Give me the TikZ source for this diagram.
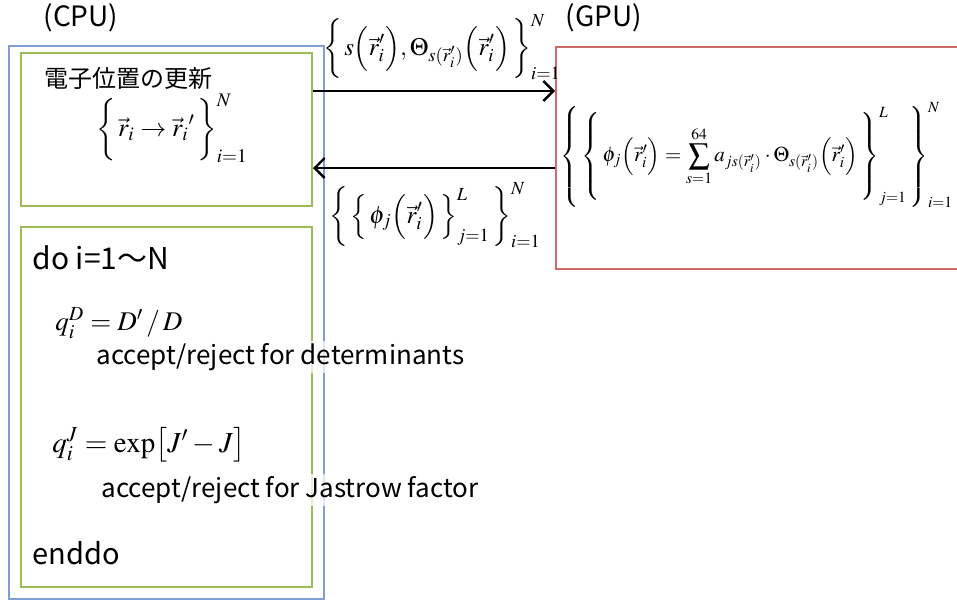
\documentclass[tikz,border=0pt]{standalone}
\usepackage{amsmath}
\usepackage{mathptmx}
\usepackage[no-math]{fontspec}
\setmainfont{Noto Sans CJK JP}
\usetikzlibrary{arrows.meta,positioning,calc,fit}
\definecolor{cpublue}{HTML}{7F9FD2}
\definecolor{loopgreen}{HTML}{9BBB59}
\definecolor{gpured}{HTML}{D06C68}
\newcommand{\opn}[1]{\mathopen{\nulldelimiterspace=0pt\left\{\vcenter{\hbox{\rule{0pt}{#1}}}\right.}}
\newcommand{\cls}[1]{\mathclose{\nulldelimiterspace=0pt\left.\vcenter{\hbox{\rule{0pt}{#1}}}\right\}}}

\begin{document}
\begin{tikzpicture}[x=0.5pt,y=-0.5pt,
  frame/.style={draw,line width=1pt,inner sep=0pt},
  flow/.style={line width=1pt,-{Straight Barb[length=5pt,width=10pt,line width=1.2pt]}},
  lbl/.style={anchor=west,inner sep=0pt}]
  \useasboundingbox (0,0) rectangle (957,601);
  \node[frame,cpublue,fit={(9,46) (324,599)}] (cpu) {};
  \node[frame,loopgreen,fit={(21,53) (312,206)}] (upd) {};
  \node[frame,loopgreen,fit={(21,227) (312,587)}] (loop) {};
  \node[frame,gpured,fit={(556,47) (962,269)}] (gpu) {};
  \node[font=\fontsize{14}{16}\selectfont] (cpulab) at (81,18) {(CPU)};
  \node[font=\fontsize{14}{16}\selectfont] (gpulab) at (604,18) {(GPU)};
  \node[lbl,font=\fontsize{12}{14}\selectfont] (updlab) at (44,78) {電子位置の更新};
  \node[font=\fontsize{13}{15}\selectfont] (updeq) at (172,128) {$\displaystyle\opn{27pt}\vec r_i\rightarrow\vec r_i{}'\cls{27pt}_{i=1}^{N}$};
  \coordinate (uptop) at (0,91);
  \coordinate (downtop) at (0,168);
  \draw[flow] (upd.east |- uptop) -- (gpu.west |- uptop);
  \draw[flow] (gpu.west |- downtop) -- (upd.east |- downtop);
  \node[font=\fontsize{12.5}{15}\selectfont] (sendlab) at (442,47) {$\displaystyle\opn{25pt}s\Bigl(\vec r_i'\Bigr),\Theta_{s(\vec r_i')}\Bigl(\vec r_i'\Bigr)\cls{25pt}_{i=1}^{N}$};
  \node[font=\fontsize{12.5}{15}\selectfont] (backlab) at (435,215) {$\displaystyle\opn{25pt}\opn{24pt}\phi_j\Bigl(\vec r_i'\Bigr)\cls{24pt}_{j=1}^{L}\cls{25pt}_{i=1}^{N}$};
  \node[lbl,font=\fontsize{10.5}{13}\selectfont] (gpueq) at (560,155) {$\displaystyle\opn{50pt}\opn{45pt}\phi_j\Bigl(\vec r_i'\Bigr)=\sum_{s=1}^{64}a_{js(\vec r_i')}\cdot\Theta_{s(\vec r_i')}\Bigl(\vec r_i'\Bigr)\cls{45pt}_{j=1}^{L}\cls{50pt}_{i=1}^{N}$};
  \node[lbl,font=\fontsize{15}{17}\selectfont] (dolab) at (32,258) {do i=1〜N};
  \node[lbl,font=\fontsize{13.5}{16}\selectfont] (qd) at (55,323) {$q_i^D=D'\,/\,D$};
  \node[lbl,font=\fontsize{13}{15}\selectfont,fill=white,fill opacity=0.75,text opacity=1,inner sep=1pt] (detlab) at (94,357) {accept/reject for determinants};
  \node[lbl,font=\fontsize{14.5}{16}\selectfont] (qj) at (52,445) {$q_i^J=\exp\bigl[J'-J\bigr]$};
  \node[lbl,font=\fontsize{13}{15}\selectfont,fill=white,fill opacity=0.75,text opacity=1,inner sep=1pt] (jaslab) at (99,490) {accept/reject for Jastrow factor};
  \node[lbl,font=\fontsize{14.5}{16}\selectfont] (endlab) at (32,553) {enddo};
\end{tikzpicture}
\end{document}
